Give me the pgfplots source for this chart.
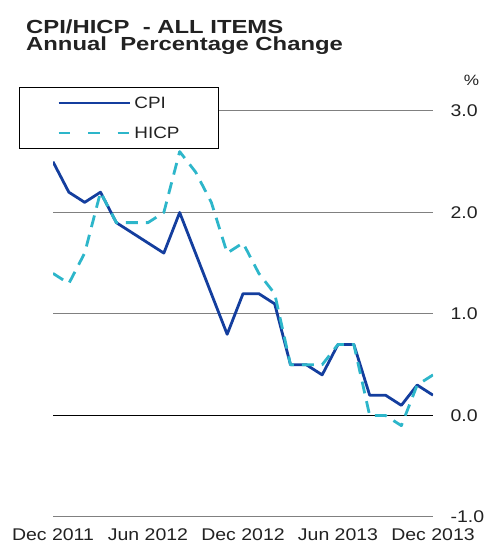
\documentclass[border=0pt]{standalone}
\usepackage{fontspec}
\setmainfont{Liberation Sans}[FakeStretch=1.15]
\newfontfamily\titlefont{Liberation Sans}[FakeStretch=1.26]
\usepackage{pgfplots}
\usepackage{pgfplotstable}
\pgfplotsset{compat=1.18}
\definecolor{cpiblue}{RGB}{20,62,158}
\definecolor{hicpcyan}{RGB}{45,182,202}
\definecolor{txtgray}{RGB}{34,34,34}
\definecolor{gridgray}{RGB}{128,128,128}

\pgfplotsset{
  cpileg/.style={legend image code/.code={\draw[##1] (0bp,0bp) -- (71bp,0bp);}},
  hicpleg/.style={legend image code/.code={\draw[##1, dash pattern=on 11.5bp off 18bp] (0bp,0bp) -- (71bp,0bp);}},
}

\pgfplotstableread{
x y
0 2.5
1 2.2
2 2.1
3 2.2
4 1.9
5 1.8
6 1.7
7 1.6
8 2.0
9 1.6
10 1.2
11 0.8
12 1.2
13 1.2
14 1.1
15 0.5
16 0.5
17 0.4
18 0.7
19 0.7
20 0.2
21 0.2
22 0.1
23 0.3
24 0.2
}\cpidata

\pgfplotstableread{
x y
0 1.4
1 1.3
2 1.6
3 2.2
4 1.9
5 1.9
6 1.9
7 2.0
8 2.6
9 2.4
10 2.1
11 1.6
12 1.7
13 1.4
14 1.2
15 0.5
16 0.5
17 0.5
18 0.7
19 0.7
20 0.0
21 0.0
22 -0.1
23 0.3
24 0.4
}\hicpdata

\begin{document}
\begin{tikzpicture}[x=1bp,y=1bp]
\path[use as bounding box] (0,0) rectangle (488,544);
\node[anchor=north west, align=left, inner sep=0pt, text=txtgray,
  font=\titlefont\bfseries\fontsize{19}{17.5}\selectfont] at (26,524.5)
  {CPI/HICP\ \ - ALL ITEMS\\Annual\ \ Percentage Change};
\node[font=\fontsize{15}{15}\selectfont, text=txtgray] at (471.5,464) {\%};
\begin{axis}[
  at={(53bp,27bp)}, anchor=south west,
  scale only axis, width=380bp, height=406bp,
  xmin=0, xmax=24, ymin=-1, ymax=3,
  axis line style={draw=none},
  major tick length=0pt,
  ytick={-1,1,2,3},
  extra y ticks={0},
  extra y tick style={grid=major, major grid style={black, line width=1.5bp}},
  ymajorgrids,
  major grid style={gridgray, line width=1bp},
  yticklabel pos=right,
  yticklabel style={anchor=west, xshift=14bp},
  xtick={0,6,12,18,24},
  xticklabels={Dec 2011,Jun 2012,Dec 2012,Jun 2013,Dec 2013},
  xticklabel style={yshift=-8bp},
  ticklabel style={font=\fontsize{17}{17}\selectfont, text=txtgray},
  /pgf/number format/.cd, fixed, fixed zerofill, precision=1, assume math mode=true, /pgfplots/.cd,
  legend cell align=left,
  legend style={at={(0,1)}, anchor=north west, xshift=-34bp, yshift=24bp,
    draw=black, line width=1.2bp, fill=white,
    font=\fontsize{16.5}{16.5}\selectfont, text=txtgray,
    inner xsep=37.5bp, inner ysep=7bp, row sep=13bp},
]
\addplot[cpiblue, line width=2.8bp, line join=round, cpileg]
  table[x=x,y=y] {\cpidata};
\addlegendentry{\makebox[46bp][l]{\hspace{1.5bp}CPI}}
\addplot[hicpcyan, line width=2.8bp, line join=round, dash pattern=on 12bp off 8bp, hicpleg]
  table[x=x,y=y] {\hicpdata};
\addlegendentry{\makebox[46bp][l]{\hspace{1.5bp}HICP}}
\end{axis}
\end{tikzpicture}
\end{document}
